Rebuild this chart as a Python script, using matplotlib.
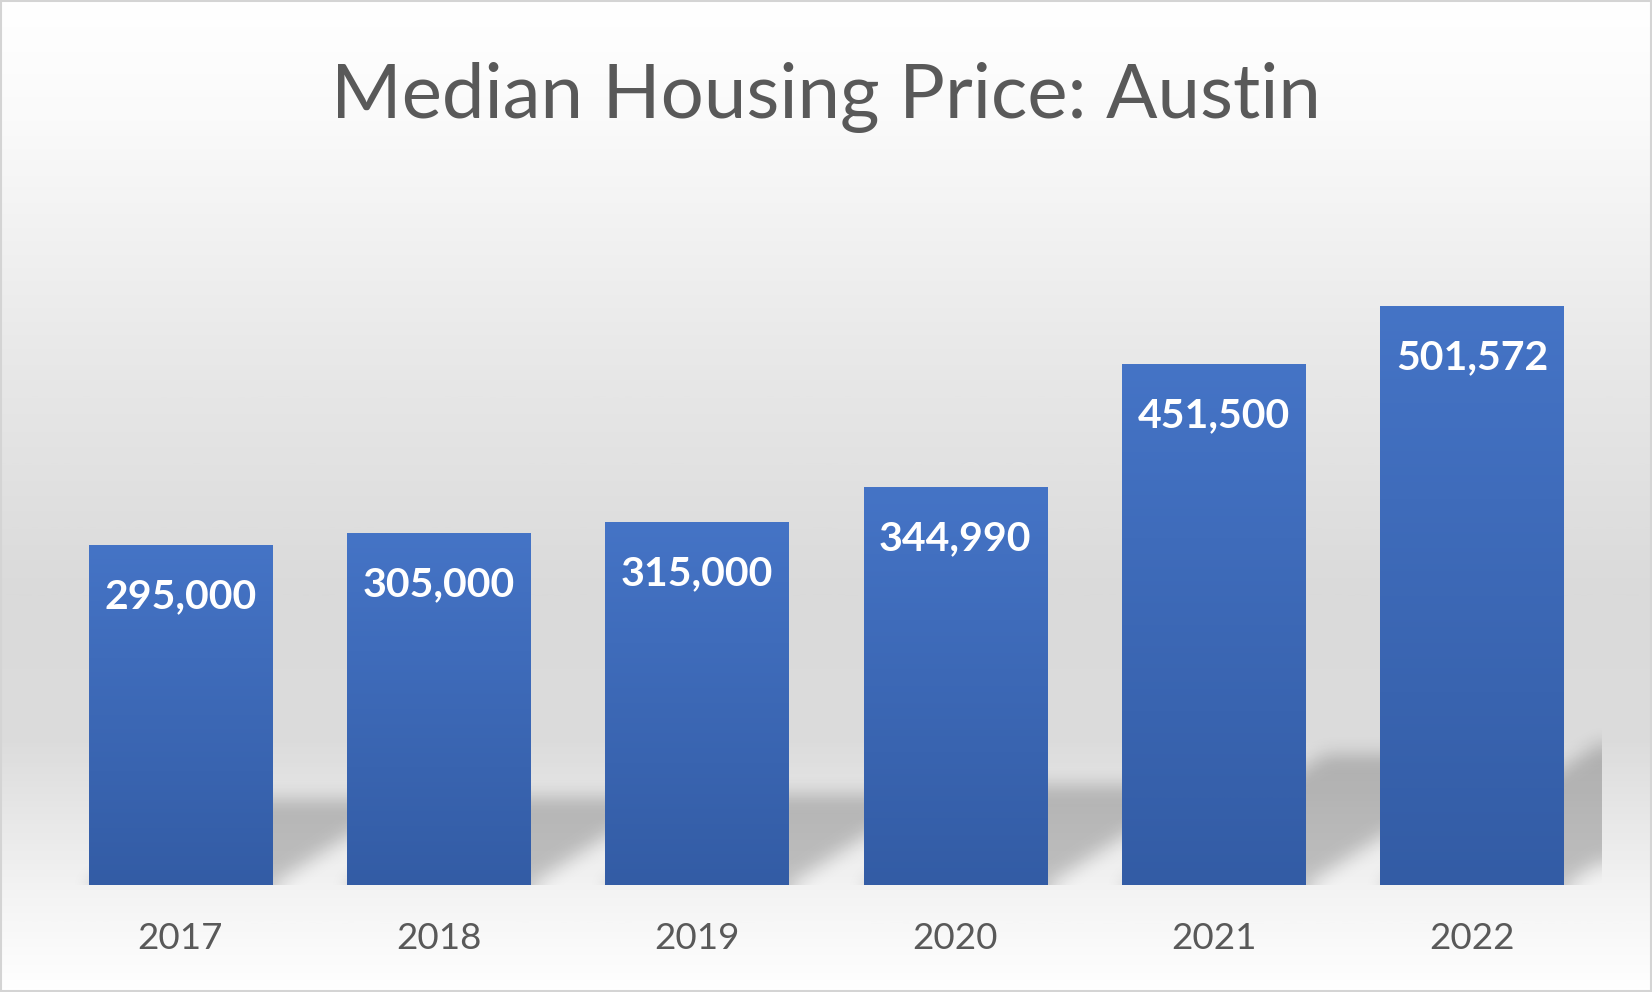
import numpy as np
import matplotlib
matplotlib.use("Agg")
import matplotlib.pyplot as plt
from matplotlib.colors import LinearSegmentedColormap
from matplotlib.patches import Rectangle

# data
years = ["2017", "2018", "2019", "2020", "2021", "2022"]
prices = [295000, 305000, 315000, 344990, 451500, 501572]

title = "Median Housing Price: Austin"
text_gray = "#595959"
bar_top = "#4574c6"
bar_bottom = "#335ca5"

W, H = 1652, 992
fig = plt.figure(figsize=(W / 100, H / 100), dpi=100)

# chart background: white -> light gray -> white
bg = fig.add_axes([0, 0, 1, 1], zorder=-5)
bg_cmap = LinearSegmentedColormap.from_list(
    "bg", [(0.0, "#ffffff"), (0.12, "#fafafa"), (0.35, "#e9e9e9"),
           (0.6, "#dadada"), (0.75, "#dcdcdc"), (0.9, "#f3f3f3"),
           (1.0, "#ffffff")])
bg.imshow(np.linspace(0, 1, 400)[:, None], cmap=bg_cmap, aspect="auto",
          extent=[0, 1, 0, 1], origin="upper")
bg.set_xlim(0, 1)
bg.set_ylim(0, 1)
bg.axis("off")
bg.add_patch(Rectangle((0.0008, 0.0012), 0.9984, 0.9976, transform=bg.transAxes,
                       fill=False, edgecolor="#d4d4d4", linewidth=1.5))

ax = fig.add_axes([0.0309, 0.1079, 0.9383, 0.6976])
ax.patch.set_alpha(0)
x = np.arange(len(years))
bars = ax.bar(x, prices, width=0.71, color=bar_top, zorder=3)
ax.set_xlim(-0.5, len(years) - 0.5)
ax.set_ylim(0, 600000)

# gradient fill inside each bar
bar_cmap = LinearSegmentedColormap.from_list("bar", [bar_bottom, bar_top])
for b in bars:
    im = ax.imshow(np.linspace(0, 1, 256)[:, None], cmap=bar_cmap, aspect="auto",
                   origin="lower", zorder=4,
                   extent=[b.get_x(), b.get_x() + b.get_width(), 0, b.get_height()])
    im.set_clip_path(b)

# perspective shadow behind bars (sheared, squashed, blurred)
bb = ax.get_window_extent()
nx, ny = int(round(bb.width)), 260
yy = np.arange(ny)[:, None].astype(float)
xx = np.arange(nx)[None, :].astype(float)
mask = np.zeros((ny, nx))
for b in bars:
    L = ax.transData.transform((b.get_x(), 0))[0] - bb.x0
    R = ax.transData.transform((b.get_x() + b.get_width(), 0))[0] - bb.x0
    hpx = ax.transData.transform((0, b.get_height()))[1] - bb.y0
    inside = (yy <= 0.25 * hpx) & (xx >= L + 1.55 * yy) & (xx <= R + 1.55 * yy)
    mask = np.maximum(mask, inside.astype(float))


def box_blur(a, r, axis):
    pad = [(0, 0), (0, 0)]
    pad[axis] = (r + 1, r)
    c = np.cumsum(np.pad(a, pad, mode="edge"), axis=axis)
    n = a.shape[axis]
    hi = np.take(c, np.arange(2 * r + 1, 2 * r + 1 + n), axis=axis)
    lo = np.take(c, np.arange(0, n), axis=axis)
    return (hi - lo) / (2 * r + 1)


for _ in range(3):
    mask = box_blur(mask, 8, 0)
    mask = box_blur(mask, 8, 1)

shadow = np.zeros((ny, nx, 4))
shadow[..., 3] = 0.21 * mask
top_val = ax.transData.inverted().transform((bb.x0, bb.y0 + ny))[1]
ax.imshow(shadow, origin="lower", aspect="auto", zorder=1,
          extent=[-0.5, len(years) - 0.5, 0, top_val])
ax.set_xlim(-0.5, len(years) - 0.5)
ax.set_ylim(0, 600000)

# data labels
for b, v in zip(bars, prices):
    ax.annotate(f"{v:,}", (b.get_x() + b.get_width() / 2, v),
                xytext=(0, -45.5), textcoords="offset points",
                ha="center", va="baseline", color="white",
                fontsize=29.5, fontweight="bold", family="Lato", zorder=6)

ax.set_xticks(x)
ax.set_xticklabels(years, fontsize=26.5, color=text_gray, family="Lato")
ax.tick_params(axis="x", length=0, pad=46)
plt.setp(ax.get_xticklabels(), va="baseline")
ax.set_yticks([])
for s in ax.spines.values():
    s.set_visible(False)

fig.text(0.5, 0.881, title, ha="center", va="baseline", fontsize=54.8,
         color=text_gray, family="Lato")

fig.savefig("out.png", dpi=100)
